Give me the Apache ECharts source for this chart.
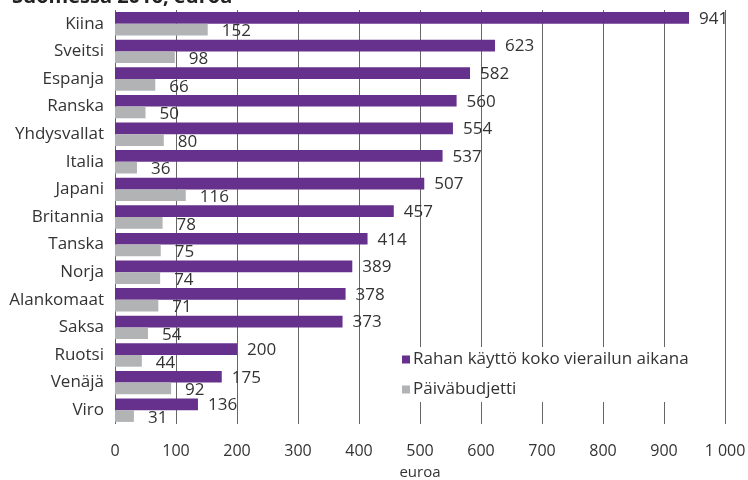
<!DOCTYPE html>
<html>
<head>
<meta charset="utf-8">
<script src="https://cdn.jsdelivr.net/npm/echarts@6/dist/echarts.min.js"></script>
<style>
  html, body { margin: 0; padding: 0; background: #fff; }
  #chart { width: 748px; height: 480px; }
</style>
</head>
<body>
<div id="chart"></div>
<script>
// maat ylhäältä alas
const countries = ['Kiina', 'Sveitsi', 'Espanja', 'Ranska', 'Yhdysvallat', 'Italia', 'Japani',
  'Britannia', 'Tanska', 'Norja', 'Alankomaat', 'Saksa', 'Ruotsi', 'Venäjä', 'Viro']
const totalSpend = [941, 623, 582, 560, 554, 537, 507, 457, 414, 389, 378, 373, 200, 175, 136]
const dailyBudget = [152, 98, 66, 50, 80, 36, 116, 78, 75, 74, 71, 54, 44, 92, 31]
const seriesNames = ['Rahan käyttö koko vierailun aikana', 'Päiväbudjetti']

const FONT = '"Open Sans", sans-serif'
const TEXT = '#333'

const chart = echarts.init(document.getElementById('chart'))

const fmt = (v) => v >= 1000 ? String(v).replace(/\B(?=(\d{3})+(?!\d))/g, ' ') : String(v)

chart.setOption({
  animation: false,
  textStyle: { fontFamily: FONT },
  title: {
    text: 'Suomessa 2016, euroa',
    left: 7,
    top: -18,
    textStyle: { fontFamily: FONT, fontSize: 20, fontWeight: 'bold', color: '#222' }
  },
  grid: { left: 115, right: 23, top: 10, bottom: 56, containLabel: false, outerBoundsMode: 'none' },
  legend: {
    orient: 'vertical',
    left: 396,
    top: 347,
    itemWidth: 8,
    itemHeight: 8,
    itemGap: 13,
    padding: [4, 6, 4, 6],
    backgroundColor: '#fff',
    icon: 'rect',
    textStyle: { fontFamily: FONT, fontSize: 17, color: TEXT, padding: [0, 0, 0, -2] },
    data: seriesNames
  },
  xAxis: {
    type: 'value',
    min: 0,
    max: 1000,
    interval: 100,
    name: 'euroa',
    nameLocation: 'middle',
    nameGap: 41,
    nameTextStyle: { fontFamily: FONT, fontSize: 15, color: TEXT },
    axisLine: { show: false },
    axisTick: { show: false },
    axisLabel: { margin: 19, fontSize: 16, color: TEXT, formatter: fmt },
    splitLine: { show: true, lineStyle: { color: '#666', width: 1 } }
  },
  yAxis: {
    type: 'category',
    inverse: true,
    data: countries,
    axisLine: { show: false },
    axisTick: { show: false },
    axisLabel: { margin: 11, fontSize: 17, color: TEXT }
  },
  series: [
    {
      name: seriesNames[0],
      type: 'bar',
      data: totalSpend,
      barWidth: 11.7,
      barGap: '0%',
      itemStyle: { color: '#66318c' },
      label: { show: true, position: 'right', distance: 10, offset: [0, 1], fontSize: 17, color: TEXT }
    },
    {
      name: seriesNames[1],
      type: 'bar',
      data: dailyBudget,
      barWidth: 11.7,
      barGap: '0%',
      itemStyle: { color: '#b1b3b5' },
      label: { show: true, position: 'right', distance: 14, offset: [0, 2], fontSize: 17, color: TEXT }
    }
  ]
})
</script>
</body>
</html>
